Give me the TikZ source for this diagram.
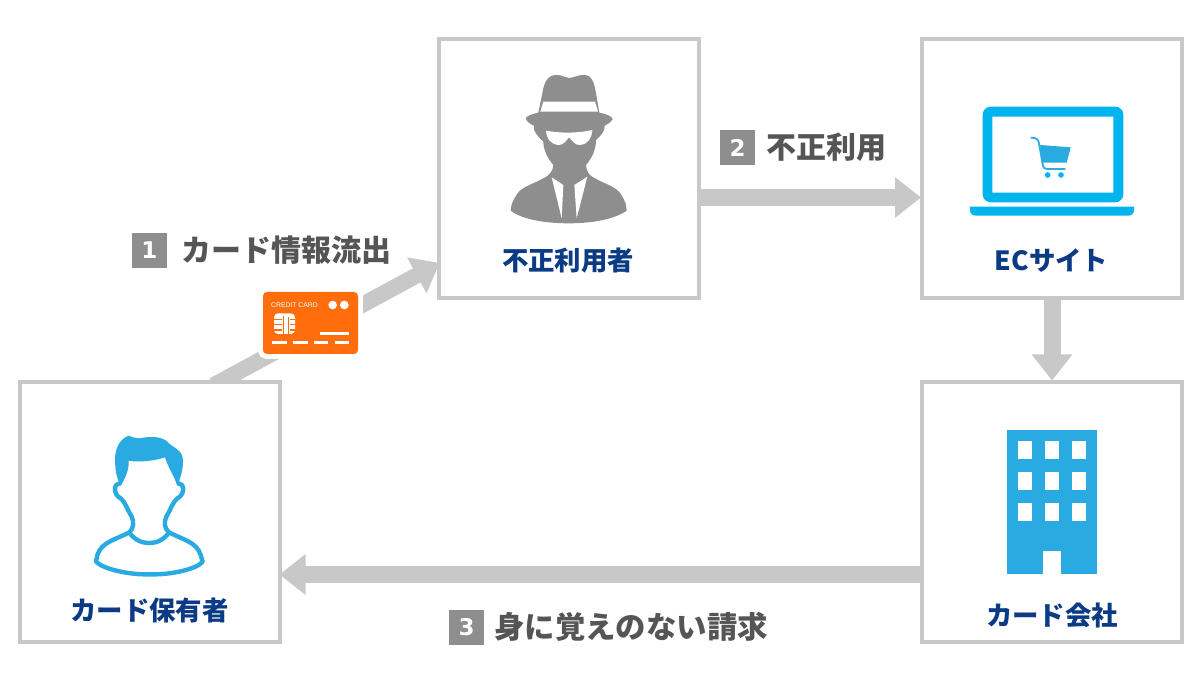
\documentclass[tikz,border=0pt]{standalone}
\usepackage{fontspec}
\setmainfont{Noto Sans CJK JP}
\newfontfamily\digitfont{DejaVu Sans}
\newfontfamily\cardfont{Liberation Sans}
\usetikzlibrary{arrows.meta,backgrounds,calc}
\definecolor{boxgray}{HTML}{C8C8C8}
\definecolor{badgegray}{HTML}{8E8E8E}
\definecolor{labelgray}{HTML}{555555}
\definecolor{navy}{HTML}{0B3B85}
\definecolor{iconblue}{HTML}{29ABE2}
\definecolor{laptopblue}{HTML}{00B4F0}
\definecolor{cardorange}{HTML}{FF6D0C}
\tikzset{
  x=1pt,y=-1pt,
  panel/.style={draw=boxgray,line width=4pt,fill=white,minimum width=260pt,minimum height=259pt,inner sep=0pt,outer sep=2pt},
  flow/.style={draw=boxgray,line width=17pt,-{Triangle[length=26pt,width=39pt,fill=boxgray]}},
  title/.style={text=navy,font=\fontsize{26.4}{26.4}\selectfont\bfseries,inner sep=0pt},
  badge/.style={fill=badgegray,text=white,minimum size=35pt,inner sep=0pt,font=\digitfont\fontsize{23}{23}\selectfont\bfseries},
  caption/.style={text=labelgray,font=\fontsize{30}{30}\selectfont\bfseries,inner sep=0pt,anchor=west},
}
\begin{document}
\begin{tikzpicture}
\useasboundingbox (0,0) rectangle (1200,700);
\begin{pgfonlayer}{background}
\fill[white] (0,0) rectangle (1200,700);
\end{pgfonlayer}
% panels
\node[panel] (holder) at (149.5,512) {};
\node[panel] (fraud) at (569,168.5) {};
\node[panel] (shop) at (1052,168.5) {};
\node[panel] (issuer) at (1052,512) {};
% panel titles
\node[title] (holderT) at (149.5,610) {カード保有者};
\node[title] (fraudT) at (568,261) {不正利用者};
\node[title] (shopT) at (1051.5,261) {ECサイト};
\node[title] (issuerT) at (1052,615) {カード会社};
% connectors
\begin{pgfonlayer}{background}
\draw[flow,line width=16pt,shorten <=-10pt,shorten >=-3pt] (holder.61) -- (fraud.216);
\draw[flow,shorten >=-1pt] (fraud.east |- 0,197.5) -- (shop.west |- 0,197.5);
\draw[flow] (shop.south -| 1052,0) -- (issuer.north -| 1052,0);
\draw[flow,shorten >=-2pt] (issuer.west |- 0,574.5) -- (holder.east |- 0,574.5);
\end{pgfonlayer}
% badges and captions
\node[badge] (b1) at (149.5,250.5) {1};
\node[caption] (c1) at (181,250) {カード情報流出};
\node[badge] (b2) at (737.5,147.5) {2};
\node[caption] (c2) at (766,147) {不正利用};
\node[badge] (b3) at (466.5,627.5) {3};
\node[caption,font=\fontsize{30.4}{30.4}\selectfont\bfseries] (c3) at (494,627) {身に覚えのない請求};
% credit card
\node[draw=white,line width=10pt,fill=cardorange,rounded corners=4pt,minimum width=95pt,minimum height=62pt,inner sep=0pt] (card) at (310.5,323) {};
\node[draw=none,fill=cardorange,rounded corners=4pt,minimum width=95pt,minimum height=62pt,inner sep=0pt] (cardface) at (310.5,323) {};
\node[text=white,inner sep=0pt,anchor=west,font=\cardfont\fontsize{6.8}{7}\selectfont] (cardtxt) at (271,305) {CREDIT CARD};
\begin{scope}[shift={(200,240)},scale=1/3]
\fill[white] (398,195) circle (13) (433,195) circle (13);
\fill[white,rounded corners=4pt] (222,220) rectangle (285,282);
\foreach \yy in {236,252,268} {\fill[cardorange] (222,\yy) rectangle (246,\yy+4); \fill[cardorange] (270,\yy) rectangle (285,\yy+4);}
\fill[cardorange] (248,228) rectangle (253,282);
\fill[cardorange] (264,232) rectangle (268,282);
\draw[white,line width=3pt] (360,280) -- (448,280);
\draw[white,line width=3pt] (215,307) -- (260,307) (278,307) -- (323,307) (341,307) -- (385,307) (404,307) -- (448,307);
\end{scope}
% spy
\begin{scope}[shift={(480,60)},scale=1/3]
\fill[badgegray] (175,158) -- (187,100) .. controls (192,65) and (205,45) .. (228,45) .. controls (250,45) and (255,54) .. (267,54) .. controls (280,54) and (290,45) .. (312,45) .. controls (335,45) and (342,65) .. (348,100) -- (358,158) .. controls (380,162) and (398,170) .. (398,178) .. controls (390,190) and (378,195) .. (374,197) .. controls (376,215) and (360,228) .. (348,240) .. controls (348,270) and (335,295) .. (318,315) .. controls (320,335) and (325,345) .. (345,355) .. controls (380,375) and (415,380) .. (430,415) .. controls (438,430) and (440,440) .. (440,452) .. controls (400,480) and (330,490) .. (267,490) .. controls (200,490) and (130,480) .. (92,452) .. controls (92,440) and (97,425) .. (105,412) .. controls (120,380) and (155,375) .. (190,355) .. controls (210,345) and (218,335) .. (220,315) .. controls (203,295) and (190,270) .. (190,245) .. controls (175,230) and (158,215) .. (162,197) .. controls (150,192) and (140,185) .. (137,175) .. controls (140,168) and (155,162) .. (175,158) -- cycle;
\fill[white] (190,125) -- (345,125) -- (354,155) -- (181,155) -- cycle;
\fill[white] (198,212) .. controls (240,220) and (295,220) .. (337,210) .. controls (335,235) and (325,252) .. (300,255) .. controls (285,257) and (275,240) .. (267,232) .. controls (260,240) and (250,257) .. (235,255) .. controls (210,252) and (200,235) .. (198,212) -- cycle;
\fill[white] (215,352) -- (250,375) -- (245,475) -- cycle;
\fill[white] (322,350) -- (283,375) -- (290,475) -- cycle;
\end{scope}
% person
\begin{scope}[shift={(70,420)},scale=1/3]
\fill[iconblue] (175,47) .. controls (145,60) and (135,90) .. (135,120) .. controls (136,150) and (138,170) .. (152,198) .. controls (165,175) and (178,150) .. (176,122) .. controls (210,128) and (255,122) .. (285,112) .. controls (295,145) and (312,165) .. (322,198) .. controls (335,165) and (344,130) .. (336,105) .. controls (328,88) and (310,82) .. (297,70) .. controls (280,48) and (240,48) .. (210,55) .. controls (195,55) and (185,50) .. (175,47) -- cycle;
\draw[iconblue,line width=4.4pt,line join=round,line cap=round] (148,190) .. controls (130,190) and (130,225) .. (152,235) .. controls (165,245) and (170,265) .. (185,290) .. controls (192,305) and (192,325) .. (178,337) .. controls (140,358) and (95,365) .. (82,405) -- (78,425) .. controls (100,448) and (180,465) .. (240,463) .. controls (300,465) and (380,448) .. (398,425) -- (392,405) .. controls (380,365) and (335,358) .. (297,337) .. controls (282,325) and (282,305) .. (289,290) .. controls (304,265) and (309,245) .. (322,235) .. controls (345,225) and (344,190) .. (326,190);
\draw[iconblue,line width=4.4pt] (178,337) .. controls (205,380) and (270,380) .. (297,337);
\end{scope}
% laptop
\begin{scope}[shift={(960,95)},scale=1/3]
\fill[laptopblue,even odd rule,rounded corners=8pt] (68,35) rectangle (490,322) [sharp corners] (97,65) rectangle (460,293);
\fill[laptopblue] (30,335) -- (522,335) -- (522,345) .. controls (522,355) and (515,362) .. (505,362) -- (47,362) .. controls (37,362) and (30,355) .. (30,345) -- cycle;
\fill[iconblue] (240,150) -- (332,157) -- (320,203) -- (248,203) -- cycle;
\draw[iconblue,line width=1.8pt] (212,128) .. controls (228,128) and (235,132) .. (237,145) -- (248,208) .. controls (250,220) and (255,222) .. (262,222) -- (316,222);
\fill[laptopblue] (263,240) circle (8.5) (303,240) circle (8.5);
\end{scope}
% building
\fill[iconblue] (1007,430) rectangle (1097,574);
\foreach \wx in {1018,1045,1072}\foreach \wy in {441,472,503} {\fill[white] (\wx,\wy) rectangle (\wx+14,\wy+18);}
\fill[white] (1043,551) rectangle (1061,574);
\end{tikzpicture}
\end{document}
